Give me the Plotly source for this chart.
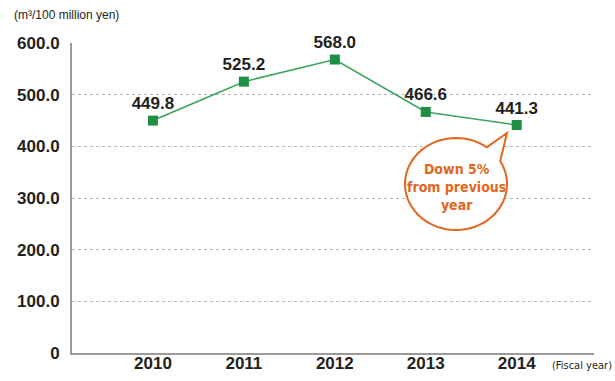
import math
import plotly.graph_objects as go

# Water usage intensity per fiscal year
years = [2010, 2011, 2012, 2013, 2014]
values = [449.8, 525.2, 568.0, 466.6, 441.3]
y_ticks = [0, 100, 200, 300, 400, 500, 600]
y_tick_text = ["0", "100.0", "200.0", "300.0", "400.0", "500.0", "600.0"]

W, H = 615, 381
L, R, T, B = 72, 21, 43, 28
X_RANGE = [2009.11, 2014.85]
Y_RANGE = [0, 600]

TEXT = "#231f20"
GREEN_LINE = "#3aa55a"
GREEN_MARK = "#1f8f45"
ORANGE = "#e2661c"
GRID = "#b5b5b5"
AXIS = "#9a9a9a"
NARROW = "DejaVu Sans Condensed, Liberation Sans"

plot_w = W - L - R
plot_h = H - T - B


def px_to_data(px, py):
    x = X_RANGE[0] + (px - L) / plot_w * (X_RANGE[1] - X_RANGE[0])
    y = Y_RANGE[0] + (T + plot_h - py) / plot_h * (Y_RANGE[1] - Y_RANGE[0])
    return x, y


def px_to_paper(px, py):
    return (px - L) / plot_w, (T + plot_h - py) / plot_h


fig = go.Figure()
fig.add_trace(go.Scatter(
    x=years, y=values, mode="lines+markers+text",
    line=dict(color=GREEN_LINE, width=1.6),
    marker=dict(symbol="square", size=10, color=GREEN_MARK),
    text=[f"{v:.1f}" for v in values], textposition="top center",
    textfont=dict(family="Liberation Sans", size=17, color=TEXT, weight="bold"),
    cliponaxis=False, hoverinfo="skip", showlegend=False,
))

# Speech bubble: ellipse with a pointer toward the latest point
cx, cy, rx, ry = 456, 184, 51, 46
tip = (507, 133)
a0, a1 = math.radians(-30), math.radians(307)
pts = []
n = 72
for i in range(n + 1):
    a = a0 + (a1 - a0) * i / n
    pts.append((cx + rx * math.cos(a), cy + ry * math.sin(a)))
pts.append(tip)
path = ""
for i, (px, py) in enumerate(pts):
    dx, dy = px_to_data(px, py)
    path += ("M" if i == 0 else "L") + f"{dx:.4f},{dy:.3f} "
path += "Z"
fig.add_shape(type="path", path=path, xref="x", yref="y",
              line=dict(color=ORANGE, width=2), fillcolor="white", layer="above")

bx, by = px_to_data(456, 187)
fig.add_annotation(x=bx, y=by, xref="x", yref="y", showarrow=False,
                   text="<b>Down 5%<br>from previous<br>year</b>",
                   font=dict(family=NARROW, size=14, color=ORANGE),
                   align="center")

tx, ty = px_to_paper(12, 15)
fig.add_annotation(x=tx, y=ty, xref="paper", yref="paper",
                   xanchor="left", yanchor="middle", showarrow=False,
                   text="(m³/100 million yen)",
                   font=dict(family="Liberation Sans", size=12, color=TEXT))
fx, fy = px_to_paper(614, 365)
fig.add_annotation(x=fx, y=fy, xref="paper", yref="paper",
                   xanchor="right", yanchor="middle", showarrow=False,
                   text="(Fiscal year)",
                   font=dict(family=NARROW, size=11, color=TEXT))

fig.update_layout(
    width=W, height=H,
    margin=dict(l=L, r=R, t=T, b=B),
    paper_bgcolor="white", plot_bgcolor="white",
    font=dict(family="Liberation Sans", color=TEXT),
    xaxis=dict(range=X_RANGE, tickvals=years, ticktext=[str(y) for y in years],
               showgrid=False, zeroline=False, showline=True, automargin=False,
               linecolor=AXIS, linewidth=2, ticks="", ticklabelstandoff=-6,
               tickfont=dict(family="Liberation Sans", size=17, color=TEXT,
                             weight="bold")),
    yaxis=dict(range=Y_RANGE, tickvals=y_ticks, ticktext=y_tick_text,
               showgrid=True, gridcolor=GRID, griddash="dot", gridwidth=1,
               zeroline=False, showline=True, linecolor=AXIS, linewidth=2,
               automargin=False,
               ticks="outside", ticklen=7, tickcolor="rgba(0,0,0,0)",
               tickfont=dict(family="Liberation Sans", size=17, color=TEXT,
                             weight="bold")),
)

fig.write_html("out.html")
